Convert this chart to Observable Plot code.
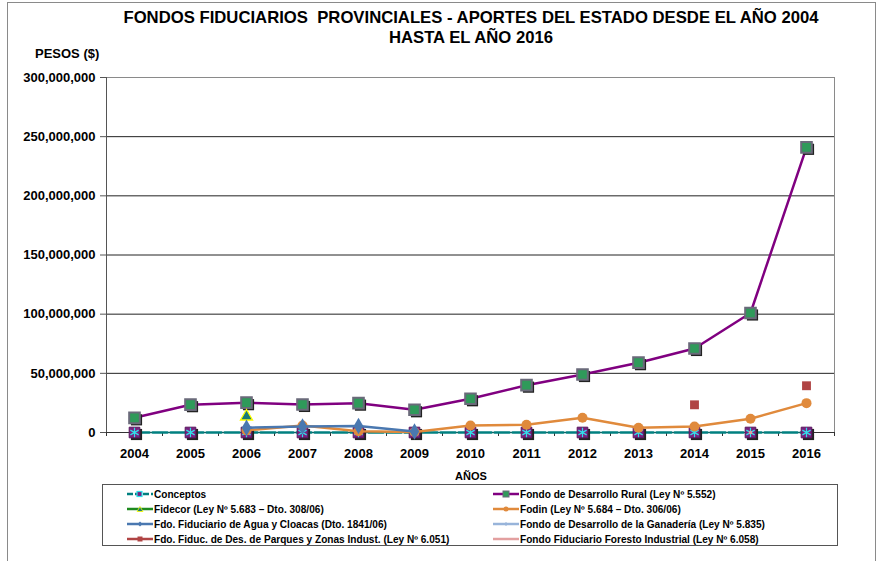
<!DOCTYPE html>
<html>
<head>
<meta charset="utf-8">
<script src="https://cdn.jsdelivr.net/npm/d3@7"></script>
<script src="https://cdn.jsdelivr.net/npm/@observablehq/plot@0.6"></script>
<style>
  html, body { margin: 0; padding: 0; background: #fff; }
  body { width: 880px; height: 561px; overflow: hidden; position: relative;
         font-family: "Liberation Sans", Arial, sans-serif; font-weight: bold; color: #000; }
  #frame { position: absolute; left: 7px; top: 2px; width: 869px; height: 600px;
           border: 1px solid #8a8a8a; box-sizing: border-box; }
  #chart { position: absolute; left: 0; top: 0; }
  .title { position: absolute; left: 0; width: 942px; text-align: center; font-size: 16.7px; line-height: 20px; }
  #ylab { position: absolute; left: 35px; top: 46px; font-size: 13px; }
  #xlab { position: absolute; left: 455px; top: 470px; font-size: 11px; }
  #legend { position: absolute; left: 102px; top: 484px; width: 736px; height: 62px;
            border: 1px solid #555; box-sizing: border-box; background: #fff; }
  .lg { position: absolute; font-size: 10.1px; height: 15px; line-height: 15px; white-space: nowrap; }
  .lg svg { vertical-align: middle; margin-right: 1px; position: relative; top: -1px; }
</style>
</head>
<body>
<div id="frame"></div>
<div id="chart"></div>
<div class="title" style="top:8px">FONDOS FIDUCIARIOS&nbsp; PROVINCIALES - APORTES DEL ESTADO DESDE EL AÑO 2004</div>
<div class="title" style="top:28px">HASTA EL AÑO 2016</div>
<div id="ylab">PESOS ($)</div>
<div id="xlab">AÑOS</div>
<div id="legend"></div>
<script>
// ---- data (pesos) ----
const years = [2004, 2005, 2006, 2007, 2008, 2009, 2010, 2011, 2012, 2013, 2014, 2015, 2016];
const conceptosValues = [0, 0, 0, 0, 0, 0, 0, 0, 0, 0, 0, 0, 0];
const ruralValues = [12.4e6, 23.5e6, 25.2e6, 23.7e6, 24.8e6, 19.2e6, 28.5e6, 40e6, 49e6, 59e6, 71e6, 101e6, 241e6];
const fodinYears = [2006, 2007, 2008, 2009, 2010, 2011, 2012, 2013, 2014, 2015, 2016];
const fodinValues = [1.8e6, 5.9e6, 1.0e6, 0.4e6, 5.9e6, 6.5e6, 12.4e6, 4.0e6, 5.0e6, 11.6e6, 24.8e6];
const aguaYears = [2006, 2007, 2008, 2009];
const aguaValues = [4.0e6, 5.0e6, 5.4e6, 0.8e6];
const fidecorYears = [2006];
const fidecorValues = [13.5e6];
const parquesYears = [2014, 2016];
const parquesValues = [23.4e6, 39.5e6];
const forestoYears = [2015];
const forestoValues = [0];
const yTicks = [0, 50e6, 100e6, 150e6, 200e6, 250e6, 300e6];
const gridValues = [50e6, 100e6, 150e6, 200e6, 250e6];
const seriesNames = [
  "Conceptos",
  "Fondo de Desarrollo Rural (Ley Nº 5.552)",
  "Fidecor (Ley Nº 5.683 – Dto. 308/06)",
  "Fodin (Ley Nº 5.684 – Dto. 306/06)",
  "Fdo. Fiduciario de Agua y Cloacas (Dto. 1841/06)",
  "Fondo de Desarrollo de la Ganadería (Ley Nº 5.835)",
  "Fdo. Fiduc. de Des. de Parques y Zonas Indust. (Ley Nº 6.051)",
  "Fondo Fiduciario Foresto Industrial (Ley Nº 6.058)"
];
const colors = {
  conceptos: "#008080", rural: "#800080", ruralMarker: "#2f9a5a", fidecor: "#1e8a1e",
  fodin: "#e08a3c", agua: "#4a78b0", ganaderia: "#98b4da", parques: "#b04444", foresto: "#e3a0a0"
};

const zip = (xs, ys) => xs.map((x, i) => ({x, y: ys[i]}));
const conceptos = zip(years, conceptosValues);
const rural = zip(years, ruralValues);
const fodin = zip(fodinYears, fodinValues);
const agua = zip(aguaYears, aguaValues);
const fidecor = zip(fidecorYears, fidecorValues);
const parques = zip(parquesYears, parquesValues);
const foresto = zip(forestoYears, forestoValues);
const boundaries = d3.range(years[0] - 0.5, years[years.length - 1] + 1, 1);

const chart = Plot.plot({
  width: 880,
  height: 470,
  marginTop: 77,
  marginBottom: 38,
  marginLeft: 106,
  marginRight: 46,
  style: {fontFamily: "'Liberation Sans', Arial, sans-serif", fontSize: "13px", fontWeight: "bold", color: "#000"},
  x: {type: "linear", domain: [years[0] - 0.5, years[years.length - 1] + 0.5]},
  y: {domain: [0, 300e6]},
  marks: [
    Plot.frame({stroke: "#8a8a8a"}),
    Plot.ruleY(gridValues, {stroke: "#222", strokeWidth: 1}),
    Plot.ruleX([years[0] - 0.5], {stroke: "#555"}),
    Plot.axisY({ticks: yTicks, tickSize: 6, tickPadding: 5, stroke: "#555", label: null,
                tickFormat: d => d3.format(",")(d)}),
    Plot.axisX({ticks: boundaries, tickSize: 4, tickFormat: () => "", stroke: "#333", label: null}),
    Plot.axisX({ticks: years, tickSize: 0, tickPadding: 16, tickFormat: d => String(d), label: null}),
    Plot.ruleY([0], {stroke: "#333"}),
    // Fondo de Desarrollo Rural
    Plot.line(rural, {x: "x", y: "y", stroke: colors.rural, strokeWidth: 2.5}),
    Plot.dot(rural, {x: "x", y: "y", symbol: "square", r: 6.3, fill: "#222", dx: 2, dy: 2}),
    Plot.dot(rural, {x: "x", y: "y", symbol: "square", r: 6, fill: colors.ruralMarker, stroke: "#6a6a7a", strokeWidth: 2}),
    // Fidecor
    Plot.dot(fidecor, {x: "x", y: "y", symbol: "triangle", r: 4.5, fill: "#1b7a78", stroke: "#ffff00", strokeWidth: 1.3}),
    // Parques
    Plot.dot(parques, {x: "x", y: "y", symbol: "square", r: 5, fill: colors.parques}),
    // Conceptos line and zero markers
    Plot.line(conceptos, {x: "x", y: "y", stroke: colors.conceptos, strokeWidth: 2.5, strokeDasharray: "15,3"}),
    Plot.dot(conceptos, {x: "x", y: "y", symbol: "square", r: 6.3, fill: "#222", dx: 2, dy: 2}),
    Plot.dot(conceptos, {x: "x", y: "y", symbol: "square", r: 6, fill: "#7a1f80", stroke: "#5a1a60", strokeWidth: 1}),
    Plot.dot(conceptos, {x: "x", y: "y", symbol: "asterisk", r: 4.5, stroke: "#30e0e8", strokeWidth: 1.2}),
    Plot.dot(foresto, {x: "x", y: "y", symbol: "square", r: 1.8, fill: colors.foresto}),
    // Fodin
    Plot.line(fodin, {x: "x", y: "y", stroke: colors.fodin, strokeWidth: 2.5}),
    Plot.dot(fodin, {x: "x", y: "y", r: 5, fill: colors.fodin}),
    // Agua y Cloacas
    Plot.line(agua, {x: "x", y: "y", stroke: colors.agua, strokeWidth: 2.5}),
    Plot.dot(agua, {x: "x", y: "y", symbol: "diamond", r: 5, fill: colors.agua})
  ]
});
document.getElementById("chart").appendChild(chart);

// ---- legend ----
const legendItems = [
  {name: seriesNames[0], color: colors.conceptos, dash: "6,2", marker: "sq-cyan"},
  {name: seriesNames[1], color: colors.rural, marker: "sq-green"},
  {name: seriesNames[2], color: colors.fidecor, marker: "tri"},
  {name: seriesNames[3], color: colors.fodin, marker: "circle"},
  {name: seriesNames[4], color: colors.agua, marker: "diamond"},
  {name: seriesNames[5], color: colors.ganaderia, marker: "plus"},
  {name: seriesNames[6], color: colors.parques, marker: "sq-red"},
  {name: seriesNames[7], color: colors.foresto, marker: "none"}
];
const legend = document.getElementById("legend");
legendItems.forEach((it, i) => {
  const col = i % 2, row = Math.floor(i / 2);
  const div = document.createElement("div");
  div.className = "lg";
  div.style.left = (col === 0 ? 24 : 390) + "px";
  div.style.top = (2 + row * 15) + "px";
  let m = "";
  if (it.marker === "sq-cyan") m = `<rect x="10" y="3.5" width="5" height="5" fill="#7a1f80" stroke="#30e0e8" stroke-width="1.2"/>`;
  if (it.marker === "sq-green") m = `<rect x="10" y="3" width="6" height="6" fill="${colors.ruralMarker}" stroke="#6a6a7a" stroke-width="1"/>`;
  if (it.marker === "tri") m = `<path d="M13,3.5 L16,8.5 L10,8.5Z" fill="#1b7a78" stroke="#ffff00" stroke-width="0.8"/>`;
  if (it.marker === "circle") m = `<circle cx="13" cy="6" r="2.5" fill="${it.color}"/>`;
  if (it.marker === "diamond") m = `<path d="M13,3.5 L15.5,6 L13,8.5 L10.5,6Z" fill="${it.color}"/>`;
  if (it.marker === "plus") m = `<path d="M13,4 V8 M11,6 H15" stroke="${it.color}" stroke-width="1"/>`;
  if (it.marker === "sq-red") m = `<rect x="10.5" y="3.5" width="5" height="5" fill="${it.color}"/>`;
  const dash = it.dash ? `stroke-dasharray="${it.dash}"` : "";
  div.innerHTML = `<svg width="26" height="12"><line x1="0" y1="6" x2="26" y2="6" stroke="${it.color}" stroke-width="2.5" ${dash}/>${m}</svg>${it.name}`;
  legend.appendChild(div);
});
</script>
</body>
</html>
